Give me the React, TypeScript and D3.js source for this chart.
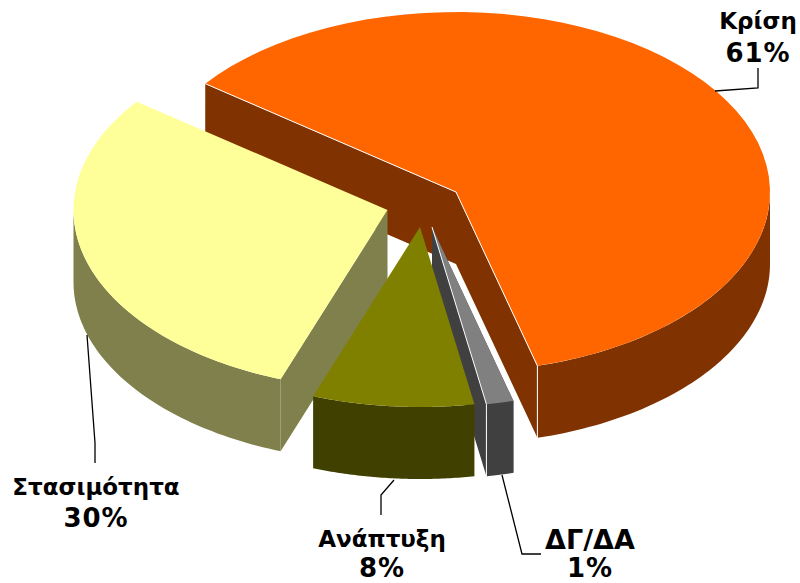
import React from 'react';
import * as d3 from 'd3';

const categories = ['Κρίση', 'ΔΓ/ΔΑ', 'Ανάπτυξη', 'Στασιμότητα'];
const shares = [60.55, 1.4, 8.3, 29.75];

const topColors = ['#FF6600', '#808080', '#808000', '#FFFF99'];
const sideColors = ['#803300', '#404040', '#404000', '#80804D'];

// where each exploded slice has its tip, in page pixels
const tips: [number, number][] = [[456, 192], [432, 227], [420, 227], [387.5, 210]];
// leader lines and text, same order as categories
const leaders: [number, number][][] = [
  [[715, 91], [758, 88], [758, 68]],
  [[502, 475], [522, 554], [541, 554]],
  [[394, 480], [381, 495], [381, 515]],
  [[87, 335], [95, 443], [95, 463]],
];
const labelPos: [number, number, number][] = [[758, 29, 62], [590, 549, 577], [382, 547, 577], [96, 495, 527]];

const rx = 314;
const ry = 180;
const depth = 72;
const rad = Math.PI / 180;

const slices = d3.pie<number>()
  .sort(null)
  .startAngle(-53 * rad)
  .endAngle((360 - 53) * rad)(shares);

const line = d3.line();

const onRim = (tip: [number, number], a: number, drop = 0): [number, number] =>
  [tip[0] + rx * Math.sin(a), tip[1] - ry * Math.cos(a) + drop];

const rim = (tip: [number, number], a0: number, a1: number, drop = 0) =>
  d3.range(0, 61).map(i => onRim(tip, a0 + ((a1 - a0) * i) / 60, drop));

const lowered = (p: [number, number]): [number, number] => [p[0], p[1] + depth];

const App = () => {
  const kr = slices[0];
  const gr = slices[1];
  const ol = slices[2];
  const ye = slices[3];
  const krEnd = onRim(tips[0], kr.endAngle);
  const krStart = onRim(tips[0], kr.startAngle);
  const grStart = onRim(tips[1], gr.startAngle);
  const grEnd = onRim(tips[1], gr.endAngle);
  const yeStart = onRim(tips[3], ye.startAngle);

  // outer wall between two angles
  const outer = (tip: [number, number], a0: number, a1: number) => {
    const edge = rim(tip, a0, a1);
    return line([...edge, ...edge.slice().reverse().map(lowered)]) + 'Z';
  };
  // flat cut wall from tip to a rim point
  const cut = (tip: [number, number], p: [number, number]) =>
    line([tip, p, lowered(p), lowered(tip)]) + 'Z';
  const top = (i: number) =>
    line([tips[i], ...rim(tips[i], slices[i].startAngle, slices[i].endAngle)]) + 'Z';

  return (
    <svg width={800} height={583} style={{ position: 'absolute', left: 0, top: 0, background: '#fff' }}>
      {/* Κρίση */}
      <path d={cut(tips[0], krStart)} fill={sideColors[0]} />
      <path d={cut(tips[0], krEnd)} fill={sideColors[0]} />
      <path d={outer(tips[0], 90 * rad, kr.endAngle)} fill={sideColors[0]} />
      <path d={top(0)} fill={topColors[0]} />
      <path d={line([krStart, tips[0], krEnd, lowered(krEnd)]) as string} fill="none" stroke="#fff" strokeWidth={1} />

      {/* ΔΓ/ΔΑ */}
      <path d={cut(tips[1], grStart)} fill={sideColors[1]} />
      <path d={cut(tips[1], grEnd)} fill={sideColors[1]} />
      <path d={outer(tips[1], gr.startAngle, gr.endAngle)} fill={sideColors[1]} />
      <path d={top(1)} fill={topColors[1]} />
      <path d={line([tips[1], grEnd, lowered(grEnd)]) as string} fill="none" stroke="#fff" strokeWidth={1} />

      {/* Στασιμότητα */}
      <path d={cut(tips[3], yeStart)} fill={sideColors[3]} />
      <path d={outer(tips[3], ye.startAngle, 270 * rad)} fill={sideColors[3]} />
      <path d={top(3)} fill={topColors[3]} />

      {/* Ανάπτυξη */}
      <path d={outer(tips[2], ol.startAngle, ol.endAngle)} fill={sideColors[2]} />
      <path d={top(2)} fill={topColors[2]} />

      {leaders.map((l, i) => (
        <path key={i} d={line(l) as string} fill="none" stroke="#000" strokeWidth={1.3} />
      ))}
      <g fontFamily="'DejaVu Sans'" fontWeight="bold" textAnchor="middle" fill="#000">
        {categories.map((c, i) => (
          <g key={c}>
            <text x={labelPos[i][0]} y={labelPos[i][1]} fontSize={i === 1 ? 27 : 23}>{c}</text>
            <text x={labelPos[i][0]} y={labelPos[i][2]} fontSize={26} letterSpacing={1}>{d3.format('.0f')(shares[i])}%</text>
          </g>
        ))}
      </g>
    </svg>
  );
};

export default App;
